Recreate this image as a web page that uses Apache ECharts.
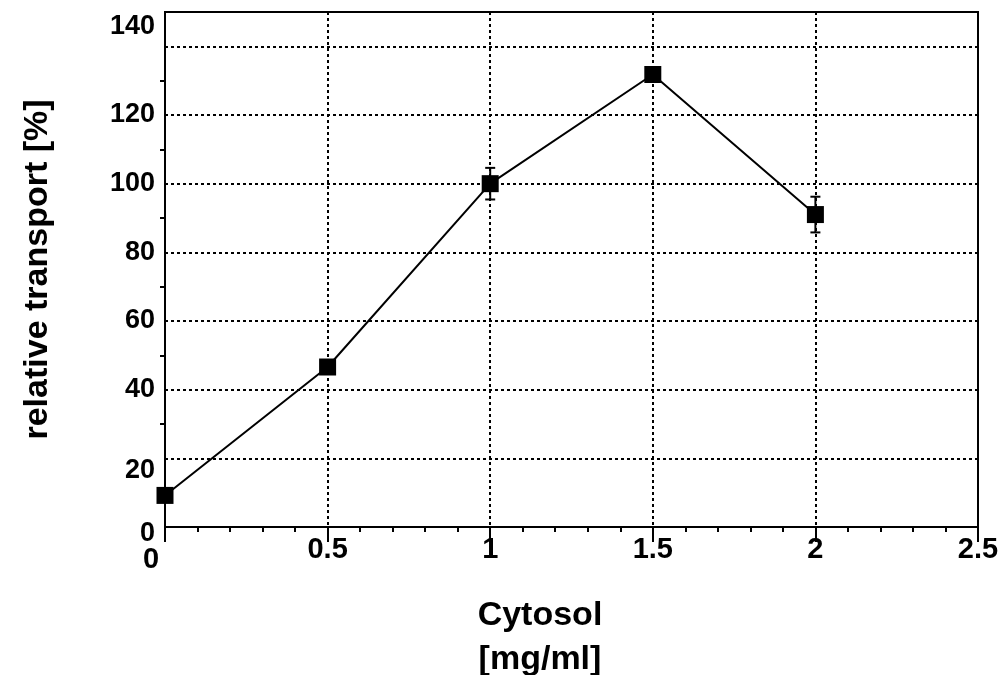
<!DOCTYPE html>
<html>
<head>
<meta charset="utf-8">
<script src="https://cdn.jsdelivr.net/npm/echarts@6/dist/echarts.min.js"></script>
<style>
html,body{margin:0;padding:0;background:#fff;}
#c{width:1006px;height:675px;}
</style>
</head>
<body>
<div id="c"></div>
<script>
var xValues = [0, 0.5, 1, 1.5, 2];
var yValues = [9.2, 46.6, 100, 131.8, 91];
var yErrors = [0, 0, 4.6, 1.5, 5.2];
var xTitle = ['Cytosol', '[mg/ml]'];
var yTitle = 'relative transport [%]';

var FONT = '"Liberation Sans", Arial, sans-serif';
var TICK = 27;
var XTICK = 29;
var TITLE = 34;
var chart = echarts.init(document.getElementById('c'), null, {renderer: 'canvas'});

var lineData = xValues.map(function (x, i) { return [x, yValues[i]]; });
var errData = xValues.map(function (x, i) { return [x, yValues[i] - yErrors[i], yValues[i] + yErrors[i]]; });

var option = {
  animation: false,
  backgroundColor: '#ffffff',
  grid: {left: 165, right: 28, top: 12, bottom: 148, show: true, borderColor: '#000', borderWidth: 2, backgroundColor: 'transparent'},
  xAxis: {
    type: 'value', min: 0, max: 2.5, interval: 0.5,
    axisLine: {show: true, onZero: false, lineStyle: {color: '#000', width: 2}},
    axisTick: {show: true, length: 15, lineStyle: {color: '#000', width: 2}},
    minorTick: {show: true, splitNumber: 5, length: 5, lineStyle: {color: '#000', width: 2}},
    splitLine: {show: true, lineStyle: {color: '#000', width: 2, type: [3, 3]}},
    axisLabel: {color: '#000', fontFamily: FONT, fontWeight: 'bold', fontSize: XTICK, margin: 8,
      formatter: function (v) { return v === 0 ? '{z|0}' : String(v); },
      rich: {
        z: {fontFamily: FONT, fontWeight: 'bold', fontSize: XTICK, color: '#000', padding: [10, 28, 0, 0]}
      }}
  },
  yAxis: {
    type: 'value', min: 0, max: 150, interval: 20,
    axisLine: {show: true, onZero: false, lineStyle: {color: '#000', width: 2}},
    axisTick: {show: false},
    minorTick: {show: true, splitNumber: 2, length: 5, lineStyle: {color: '#000', width: 2}},
    splitLine: {show: true, lineStyle: {color: '#000', width: 2, type: [3, 3]}},
    axisLabel: {color: '#000', fontFamily: FONT, fontWeight: 'bold', fontSize: TICK, margin: 10, showMaxLabel: false,
      formatter: function (v) {
        if (v > 140) return '';
        if (v === 0) return '{d|0}';
        if (v === 20) return '{e|20}';
        if (v === 140) return '{u|140}';
        return String(v);
      },
      rich: {
        d: {fontFamily: FONT, fontWeight: 'bold', fontSize: TICK, color: '#000', padding: [14, 0, 0, 0]},
        e: {fontFamily: FONT, fontWeight: 'bold', fontSize: TICK, color: '#000', padding: [24, 0, 0, 0]},
        u: {fontFamily: FONT, fontWeight: 'bold', fontSize: TICK, color: '#000', padding: [0, 0, 40, 0]}
      }
    },
    name: yTitle, nameLocation: 'middle', nameGap: 110, nameRotate: 90,
    nameTextStyle: {color: '#000', fontFamily: FONT, fontWeight: 'bold', fontSize: TITLE}
  },
  graphic: [
    {type: 'text', x: 540, y: 616, style: {text: xTitle[0], x: 0, y: 0, align: 'center', verticalAlign: 'middle', fill: '#000', font: 'bold ' + TITLE + 'px ' + FONT}},
    {type: 'text', x: 540, y: 660, style: {text: xTitle[1], x: 0, y: 0, align: 'center', verticalAlign: 'middle', fill: '#000', font: 'bold ' + TITLE + 'px ' + FONT}}
  ],
  series: [
    {
      type: 'custom',
      clip: false,
      data: errData,
      z: 3,
      renderItem: function (params, api) {
        var x = api.value(0);
        var lo = api.coord([x, api.value(1)]);
        var hi = api.coord([x, api.value(2)]);
        var w = 5;
        var st = {stroke: '#000', lineWidth: 2};
        return {
          type: 'group',
          children: [
            {type: 'line', shape: {x1: lo[0], y1: lo[1], x2: hi[0], y2: hi[1]}, style: st},
            {type: 'line', shape: {x1: lo[0] - w, y1: lo[1], x2: lo[0] + w, y2: lo[1]}, style: st},
            {type: 'line', shape: {x1: hi[0] - w, y1: hi[1], x2: hi[0] + w, y2: hi[1]}, style: st}
          ]
        };
      }
    },
    {
      type: 'line',
      data: lineData,
      clip: false,
      z: 4,
      symbol: 'rect',
      symbolSize: 17,
      itemStyle: {color: '#000'},
      lineStyle: {color: '#000', width: 2}
    }
  ]
};
chart.setOption(option);
</script>
</body>
</html>
